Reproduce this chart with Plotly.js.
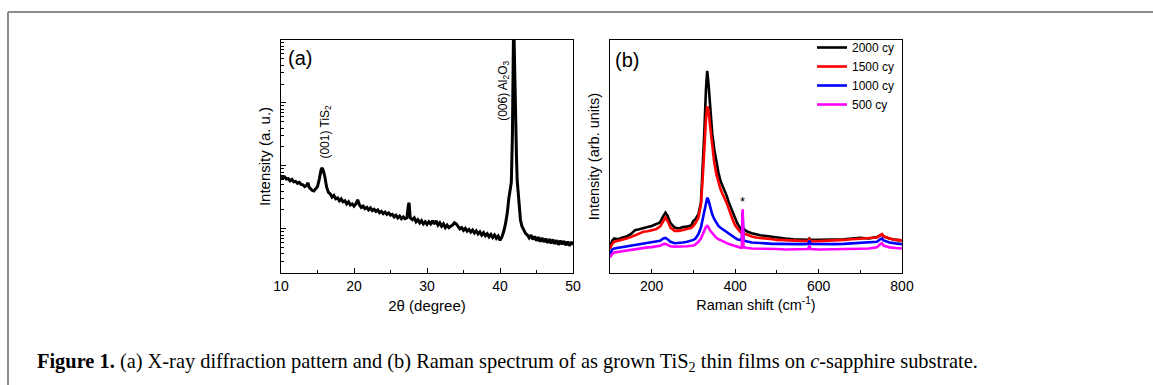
<!DOCTYPE html>
<html>
<head>
<meta charset="utf-8">
<script src="https://cdn.plot.ly/plotly-3.0.1.min.js"></script>
<style>html,body{margin:0;padding:0;background:#fff;}#chart{width:1153px;height:385px;}</style>
</head>
<body>
<div id="chart"></div>
<script>
// ---- Panel (a): XRD pattern ----
const xrdAngle = [10.00,10.25,10.50,10.75,11.00,11.25,11.50,11.75,12.00,12.25,12.50,12.75,13.00,13.25,13.50,13.70,13.85,14.00,14.25,14.50,14.75,15.00,15.25,15.50,15.65,15.80,16.00,16.25,16.50,16.75,17.00,17.25,17.50,17.75,18.00,18.25,18.50,18.75,19.00,19.25,19.50,19.75,20.00,20.25,20.50,20.75,21.00,21.25,21.50,21.75,22.00,22.25,22.50,22.75,23.00,23.25,23.50,23.75,24.00,24.25,24.50,24.75,25.00,25.25,25.50,25.75,26.00,26.25,26.50,26.75,27.00,27.25,27.45,27.55,27.70,28.00,28.25,28.50,28.75,29.00,29.25,29.50,29.75,30.00,30.25,30.50,30.75,31.00,31.25,31.50,31.75,32.00,32.25,32.50,32.75,33.00,33.25,33.50,33.75,34.00,34.25,34.50,34.75,35.00,35.25,35.50,35.75,36.00,36.25,36.50,36.75,37.00,37.25,37.50,37.75,38.00,38.25,38.50,38.75,39.00,39.25,39.50,39.75,40.00,40.25,40.50,40.75,41.00,41.20,41.40,41.55,41.70,41.80,41.88,41.95,42.05,42.15,42.25,42.35,42.50,42.65,42.80,43.00,43.25,43.50,43.75,44.00,44.25,44.50,44.75,45.00,45.25,45.50,45.75,46.00,46.25,46.50,46.75,47.00,47.25,47.50,47.75,48.00,48.25,48.50,48.75,49.00,49.25,49.50,49.75,50.00];
const xrdIntensity = [68,64,67,62,63,58,61,56,57,53,55,51,50,47,49,54,46,44,41,40,43,47,62,88,93,84,68,46,38,36,32,34,30,31,28,30,27,28,25,27,24,25,23,25,29,24,22,23,21,22,20,21.5,19.5,20.5,19,20,18,19,17.5,18.5,17,18,16.5,17,15.5,16.5,15,16,14.5,15.5,14.5,15,24,26,15,14,15,13,14,12.5,13.5,12,13,11.8,13,12,13.5,12,13.5,11.5,12.5,11,12,10.5,11.5,10.5,11,11.5,12.5,12,11,10,10.5,9.5,10.2,9.2,9.8,8.9,9.6,8.6,9.3,8.3,9.0,8.0,8.7,7.8,8.4,7.5,8.2,7.3,8.0,7.1,7.7,6.6,7.4,9,12,18,30,42,55,300,4000,30000,8000,1200,500,150,60,35,20,14,11,9.5,8.5,8.0,7.2,8.0,6.8,7.6,6.5,7.4,6.3,7.2,6.2,7.0,6.0,6.9,5.9,6.8,5.8,6.6,5.6,6.5,5.7,6.4,5.5,6.3,5.4,6.2,5.6];
const xrdTicks = [10, 20, 30, 40, 50];

// ---- Panel (b): Raman spectra ----
const ramanShift = [100,105,110,120,130,140,150,160,170,180,190,200,210,220,228,233,238,245,255,265,275,285,295,300,305,312,318,322,326,330,333,336,340,345,350,355,360,365,370,375,380,385,390,395,400,405,410,414,416,418,420,424,430,440,450,460,470,480,490,500,520,540,560,575,578,581,600,620,640,660,680,700,720,740,748,752,756,770,785,800];
const raman2000 = [11.0,13.8,14.8,14.5,15.2,15.7,16.7,18.4,18.8,19.4,19.7,20.2,20.8,21.7,24.5,25.9,24.5,21.4,19.5,19.1,19.7,19.9,20.5,22.4,23.1,25.2,30.2,43.0,60.0,78.6,86.8,81.5,71.5,60.0,53.0,47.3,43.0,39.5,37.3,35.9,33.0,30.2,28.1,25.2,23.1,21.4,19.9,18.8,19.0,20.2,18.9,18.5,17.7,17.1,16.5,16.2,16.0,15.7,15.4,15.2,14.8,14.5,14.2,14.2,14.8,14.2,14.2,14.2,14.5,14.5,14.8,15.1,14.8,15.4,16.2,16.5,15.7,14.8,14.2,14.0];
const raman1500 = [10.3,12.4,13.4,13.8,14.2,14.8,15.4,16.2,17.1,17.7,17.9,18.4,18.8,19.9,22.4,23.8,22.4,19.5,18.1,18.1,18.5,18.8,19.4,20.2,21.4,23.8,29.5,40.0,54.0,65.8,71.5,70.0,63.0,54.4,47.3,42.3,38.7,35.9,33.8,32.0,29.9,27.4,24.5,22.4,20.5,19.1,18.1,17.4,17.3,18.1,17.1,16.7,16.2,15.7,15.2,15.1,14.8,14.7,14.5,14.2,14.0,13.8,13.7,13.7,14.5,13.7,13.7,13.8,14.0,14.2,14.5,14.8,15.0,15.2,16.2,16.7,15.7,14.8,14.2,14.0];
const raman1000 = [8.1,10.0,10.5,10.8,11.1,11.4,11.7,12.0,12.3,12.5,12.7,13.0,13.2,13.8,14.8,15.1,14.5,13.4,12.8,12.8,13.1,13.4,13.8,14.2,14.8,16.7,19.5,23.1,27.4,30.9,32.3,31.3,28.1,25.2,23.1,21.4,20.2,19.4,18.8,18.2,17.7,17.1,16.2,15.7,15.1,14.5,14.2,14.0,14.2,26.0,14.0,13.7,13.4,13.1,13.0,12.8,12.7,12.7,12.5,12.5,12.4,12.4,12.4,12.5,13.8,12.5,12.4,12.4,12.4,12.5,12.7,12.8,13.0,13.4,14.5,14.8,14.0,13.1,12.7,12.4];
const raman500 = [6.7,8.1,8.8,9.1,9.4,9.7,10.0,10.3,10.5,10.8,11.0,11.1,11.4,11.7,12.4,12.5,12.1,11.5,11.3,11.3,11.4,11.5,11.7,11.8,12.3,13.4,14.8,16.7,18.4,19.8,20.2,19.7,18.2,17.0,16.0,15.1,14.5,14.0,13.5,13.1,12.8,12.4,12.1,11.8,11.5,11.3,11.0,10.8,11.0,27.4,11.0,10.8,10.7,10.5,10.5,10.4,10.4,10.3,10.3,10.3,10.1,10.1,10.1,10.3,11.7,10.3,10.1,10.1,10.1,10.3,10.3,10.4,10.5,11.0,12.4,12.8,11.7,11.0,10.7,10.5];
const ramanNames = ['2000 cy', '1500 cy', '1000 cy', '500 cy'];
const ramanColors = ['#000000', '#ff0000', '#0000ff', '#ff00ff'];
const ramanTicks = [200, 400, 600, 800];

const W = 1153, H = 385;
const px = v => v / W, py = v => 1 - v / H;
const sans = 'Liberation Sans, Arial, sans-serif';

const traces = [{
  x: xrdAngle, y: xrdIntensity, xaxis: 'x', yaxis: 'y', type: 'scatter', mode: 'lines',
  line: {color: '#000', width: 3}, showlegend: false, hoverinfo: 'skip'
}];
[raman2000, raman1500, raman1000, raman500].forEach((s, i) => {
  traces.push({x: ramanShift, y: s, xaxis: 'x2', yaxis: 'y2', type: 'scatter', mode: 'lines',
    name: ramanNames[i], line: {color: ramanColors[i], width: 2.6}});
});

const axBase = {showline: true, linecolor: '#000', linewidth: 1, mirror: true, showgrid: false,
  zeroline: false, ticks: 'inside', tickcolor: '#000', tickfont: {family: sans, size: 14, color: '#000'}};

const layout = {
  width: W, height: H, margin: {l: 0, r: 0, t: 0, b: 0},
  paper_bgcolor: '#fff', plot_bgcolor: '#fff', font: {family: sans, color: '#000'},
  xaxis: Object.assign({}, axBase, {domain: [px(281), px(573)], range: [10, 50], tickvals: xrdTicks,
    ticklen: 5, minor: {dtick: 5, tick0: 10, ticklen: 3, ticks: 'inside', tickcolor: '#000'},
    title: {text: '2θ (degree)', font: {family: sans, size: 15}, standoff: 7}, anchor: 'y'}),
  yaxis: Object.assign({}, axBase, {domain: [py(273), py(40)], type: 'log', range: [0.30, 4.0],
    dtick: 1, ticklen: 5, showticklabels: false,
    minor: {ticklen: 2.5, ticks: 'inside', tickcolor: '#000'},
    title: {text: 'Intensity (a. u.)', font: {family: sans, size: 15}, standoff: 5}, anchor: 'x'}),
  xaxis2: Object.assign({}, axBase, {domain: [px(610), px(902)], range: [100, 800], tickvals: ramanTicks,
    ticklen: 4, minor: {dtick: 100, tick0: 100, ticklen: 3, ticks: 'inside', tickcolor: '#000'},
    title: {text: 'Raman shift (cm<sup>-1</sup>)', font: {family: sans, size: 14.5}, standoff: 7}, anchor: 'y2'}),
  yaxis2: Object.assign({}, axBase, {domain: [py(273), py(40)], range: [0, 100], ticks: '',
    showticklabels: false,
    title: {text: 'Intensity (arb. units)', font: {family: sans, size: 14.5}, standoff: 5}, anchor: 'x2'}),
  legend: {x: px(900), xanchor: 'right', y: py(33), yanchor: 'top', bgcolor: 'rgba(0,0,0,0)',
    font: {family: sans, size: 12, color: '#000'}, tracegroupgap: 0, itemwidth: 30},
  shapes: [
    {type: 'line', xref: 'paper', yref: 'paper', x0: px(8), x1: 1, y0: py(12), y1: py(12), line: {color: '#8c8c8c', width: 2}},
    {type: 'line', xref: 'paper', yref: 'paper', x0: px(8), x1: px(8), y0: py(12), y1: 0, line: {color: '#8c8c8c', width: 2}}
  ],
  annotations: [
    {xref: 'paper', yref: 'paper', x: px(300), y: py(58), xanchor: 'center', yanchor: 'middle', text: '(a)', showarrow: false, font: {family: sans, size: 20}},
    {xref: 'paper', yref: 'paper', x: px(627), y: py(60), xanchor: 'center', yanchor: 'middle', text: '(b)', showarrow: false, font: {family: sans, size: 20}},
    {xref: 'x', yref: 'paper', x: 15.7, y: py(132), xshift: 3, xanchor: 'center', yanchor: 'middle', text: '(001) TiS<sub>2</sub>', textangle: -90, showarrow: false, font: {family: sans, size: 12}},
    {xref: 'x', yref: 'paper', x: 41.9, y: py(91), xshift: -10, xanchor: 'center', yanchor: 'middle', text: '(006) Al<sub>2</sub>O<sub>3</sub>', textangle: -90, showarrow: false, font: {family: sans, size: 12}},
    {xref: 'x2', yref: 'y2', x: 418, y: 30.5, xanchor: 'center', yanchor: 'middle', text: '*', showarrow: false, font: {family: sans, size: 13}},
    {xref: 'paper', yref: 'paper', x: px(35), y: py(362), xanchor: 'left', yanchor: 'middle', showarrow: false,
      text: '<b>Figure 1.</b> (a) X-ray diffraction pattern and (b) Raman spectrum of as grown TiS<sub>2</sub> thin films on <i>c</i>-sapphire substrate.',
      font: {family: 'Liberation Serif, serif', size: 20.4, color: '#000'}}
  ]
};

Plotly.newPlot('chart', traces, layout, {staticPlot: true, displayModeBar: false});
</script>
</body>
</html>
